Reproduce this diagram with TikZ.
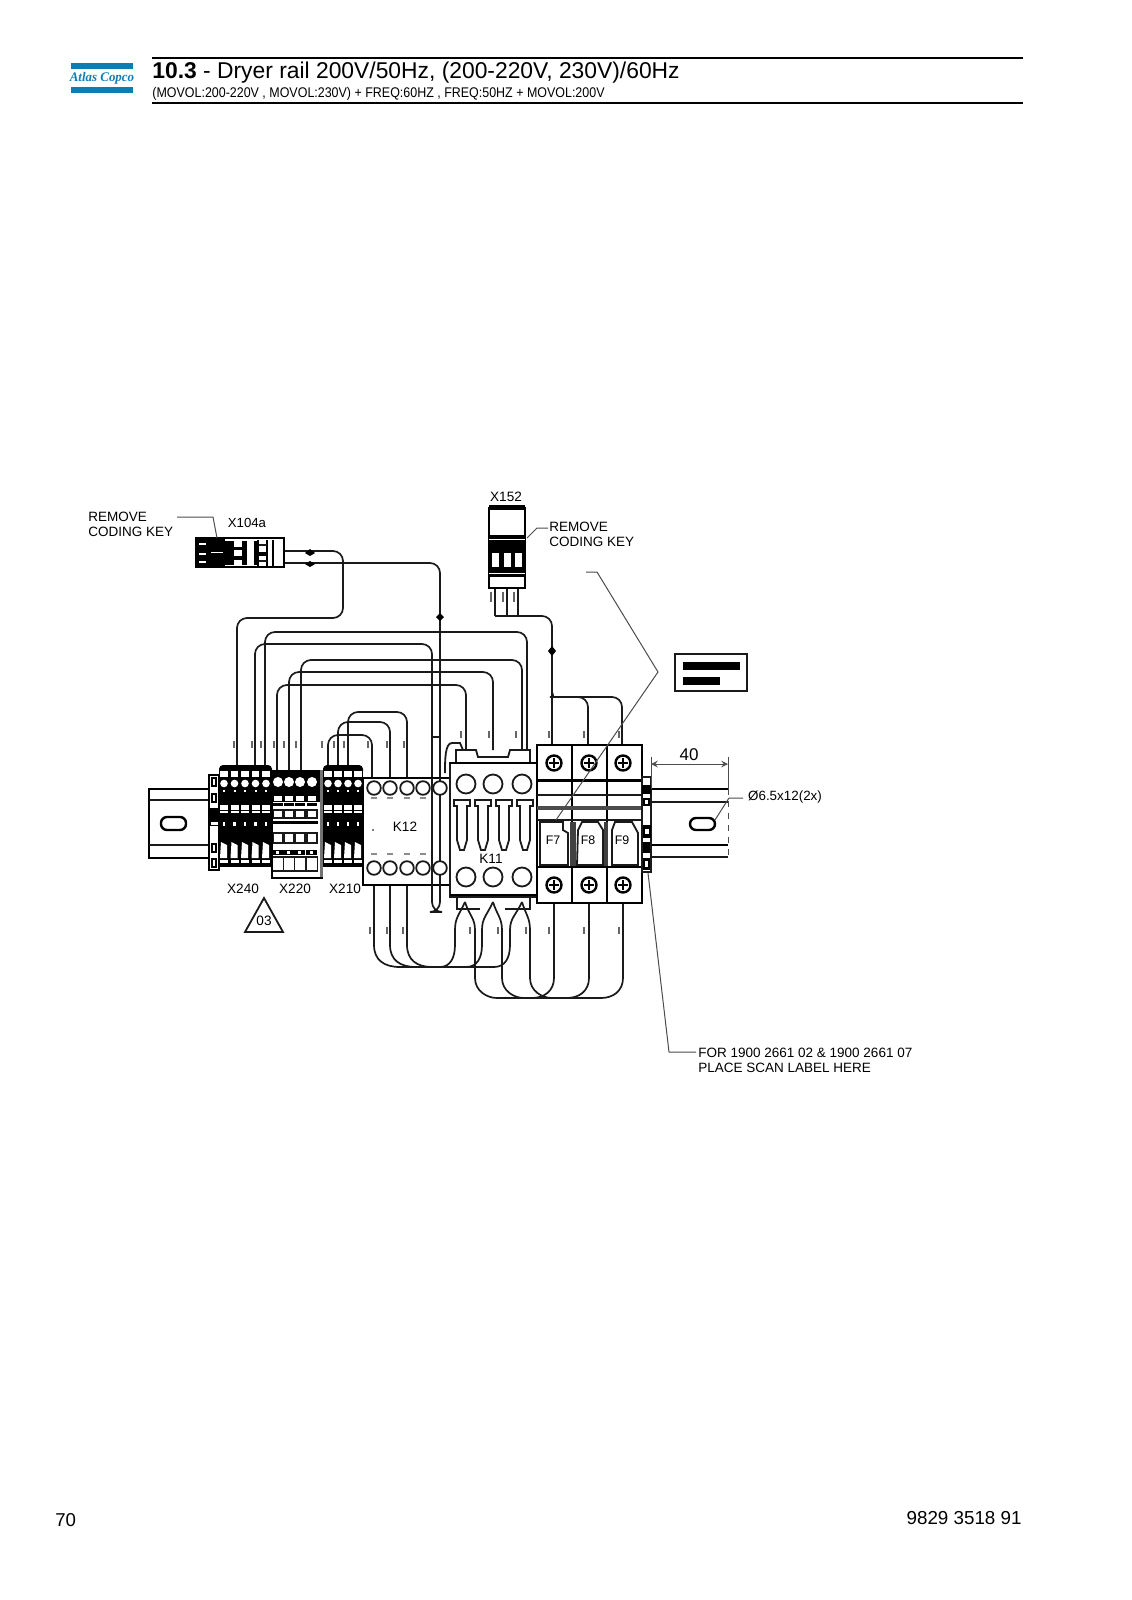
\documentclass[tikz,border=0pt]{standalone}
\usepackage{fontspec}
\setmainfont{Liberation Sans}
\newfontfamily\logofont{Liberation Serif}
\definecolor{acblue}{HTML}{0B7FB4}
\definecolor{inkc}{HTML}{1A1A1A}
\tikzset{
  wire/.style={draw=inkc,line width=0.85pt,rounded corners=5pt},
  thin part/.style={draw=inkc,line width=0.7pt},
  heavy part/.style={draw=black,line width=1.2pt},
  leader/.style={draw=black!70,line width=0.5pt},
  draw label/.style={inner sep=0pt,font=\fontsize{6.75}{7.6}\selectfont,text=black,align=left},
  tick/.style={draw=black!60,line width=0.7pt},
}
\newcommand{\fuseshape}[1]{%
  \draw[thin part,fill=white,line width=0.9pt] (#1-8,800)--(#1+8,800)--(#1+8,806)--(#1+5,806)--(#1+5,840)--(#1+2,850)--(#1-2,850)--(#1-5,840)--(#1-5,806)--(#1-8,806)--cycle;}
\begin{document}
\begin{tikzpicture}[x=0.5pt,y=-0.5pt]
\useasboundingbox (0,0) rectangle (1131,1600);
% ---------- header
\fill[acblue] (71,63.5) rectangle (133,69.5);
\fill[acblue] (71,87) rectangle (133,93);
\node[inner sep=0pt,text=acblue] (logo) at (102,78.5) {\scalebox{0.98}[1]{\logofont\bfseries\itshape\fontsize{6.6}{7}\selectfont Atlas Copco}};
\draw[black,line width=1.2pt] (152,58) -- (1023,58);
\draw[black,line width=1.2pt] (152,103) -- (1023,103);
\node[anchor=base west,inner sep=0pt] (title) at (152,79) {\fontsize{11.42}{13}\selectfont\textbf{10.3} - Dryer rail 200V/50Hz, (200-220V, 230V)/60Hz};
\node[anchor=base west,inner sep=0pt] (subtitle) at (152,97.5) {\scalebox{0.89}[1]{\fontsize{7}{8}\selectfont (MOVOL:200-220V , MOVOL:230V) + FREQ:60HZ , FREQ:50HZ + MOVOL:200V}};
% ---------- footer
\node[anchor=base west,inner sep=0pt] (pageno) at (55,1526) {\fontsize{9.3}{11}\selectfont 70};
\node[anchor=base east,inner sep=0pt] (docno) at (1022,1524) {\fontsize{9.4}{11}\selectfont 9829 3518 91};
% ---------- rails
\draw[heavy part] (210,789) -- (149,789) -- (149,858) -- (210,858);
\draw[thin part] (149,800) -- (210,800) (149,845) -- (210,845);
\draw[heavy part,rounded corners=3pt] (161,817) rectangle (186,830);
\draw[heavy part] (651,789) -- (728,789);
\draw[thin part] (651,857) -- (728,857);
\draw[leader,dashed] (728,789) -- (728,857);
\draw[thin part] (651,802) -- (728,802) ;
\draw[heavy part] (651,845) -- (728,845);
\draw[heavy part,rounded corners=3pt] (690,818) rectangle (715,830);
% ---------- wires from X104a
\draw[wire] (284,551) -- (343,551) -- (343,618) -- (237,618) -- (237,766);
\draw[wire] (284,563) -- (440,563) -- (440,780);
\draw[wire] (432,780) -- (432,644) -- (255,644) -- (255,766);
\draw[thin part] (432,737) -- (440,737);
\draw[wire] (265,766) -- (265,632) -- (527,632) -- (527,750);
\draw[wire] (277,772) -- (277,685) -- (466,685) -- (466,750);
\draw[wire] (289,772) -- (289,672) -- (493,672) -- (493,750);
\draw[wire] (301,772) -- (301,660) -- (522,660) -- (522,750);
\draw[wire] (328,766) -- (328,735) -- (372,735) -- (372,780);
\draw[wire] (338,766) -- (338,722) -- (390,722) -- (390,780);
\draw[wire] (348,766) -- (348,712) -- (407,712) -- (407,780);
% ---------- wires from X152
\draw[wire] (495,588) -- (495,616);
\draw[wire] (507,588) -- (507,616);
\draw[wire] (518,588) -- (518,616);
\draw[wire] (495,616) -- (552,616) -- (552,745);
\draw[wire] (552,692) .. controls (553,696) and (555,697) .. (560,697) -- (622,697) -- (622,745);
\draw[wire] (580,697) -- (588,697) -- (588,745);
% ---------- lower wires
\foreach \a/\b/\c/\d/\e in {374/400/440/455/465,390/416/466/482/493,407/432/494/510/522}{
  \draw[thin part,line width=0.85pt] (\a,885) -- (\a,945) .. controls (\a,960) and (\a+10,967) .. (\b,967) -- (\c,967) .. controls (\d-5,967) and (\d,958) .. (\d,945) -- (\d,930) .. controls (\d,918) and (\e-6,915) .. (\e,902);
}
\foreach \e/\f/\g/\h/\i in {465/475/497/532/554,493/502/524/567/589,522/530/552/601/623}{
  \draw[thin part,line width=0.85pt] (\e,902) .. controls (\e+4,915) and (\f,918) .. (\f,930) -- (\f,978) .. controls (\f,991) and (\g-10,998) .. (\g,998) -- (\h,998) .. controls (\h+12,998) and (\i,991) .. (\i,978) -- (\i,903);
}
% ---------- wire marks
\foreach \p in {234,252,261,274,284,296,322,334,344,368,387,404}{\draw[tick] (\p,741) -- (\p,748);}
\foreach \p in {461,489,516,549,584,619}{\draw[tick] (\p,731) -- (\p,738);}
\foreach \p in {370,387,403,470,498,526,549,584,619}{\draw[tick] (\p,927) -- (\p,934);}
\foreach \p in {491,503,514}{\draw[tick] (\p,592) -- (\p,602);}
\fill[black] (440,613) -- (444,617) -- (440,621) -- (436,617) -- cycle;
\fill[black] (552,646) -- (556,651) -- (552,656) -- (548,651) -- cycle;
\fill[black] (310,549) -- (315,553) -- (310,556) -- (305,553) -- cycle;
\fill[black] (310,561) -- (315,564) -- (310,567) -- (305,564) -- cycle;
% ---------- X104a connector
\draw[heavy part,fill=white] (196,538) rectangle (284,567);
\fill[black] (196,538) rectangle (225,566);
\fill[black] (225,541) rectangle (258,565);
\foreach \yy in {543,553,561}{\fill[white] (199,\yy) rectangle (206,\yy+2);}
\draw[white,line width=0.5pt] (211,552) -- (223,552);
\foreach \yy in {541,550,560}{\fill[white] (234,\yy) rectangle (242,\yy+6);}
\fill[white] (247,540) rectangle (254,565);
\fill[white] (262,541) rectangle (267,565);
\draw[black,line width=0.8pt] (258,540) -- (258,566) (267,540) -- (267,566) (273,540) -- (273,566);
\fill[black] (259,552) rectangle (267,556);
\draw[thin part] (259,545) -- (267,545) (259,561) -- (267,561);
% ---------- terminal block end plate
\draw[heavy part,fill=white] (209,775) rectangle (219,870);
\foreach \yy in {782,798,848,863}{\fill[black] (211,\yy-5) rectangle (217,\yy+5);\fill[white] (213,\yy-3) rectangle (215,\yy+3);}
\fill[black] (210,808) rectangle (219,826);
\fill[white] (211,822) rectangle (218,825);
% ---------- X240 and X210 terminal strips
\foreach \l/\r/\cols in {219/272/{224,234.5,245,255.5,266},323/363/{328,338,348,358}}{
  \fill[black] (\l,769) rectangle (\r,867);
  \fill[black,rounded corners=2pt] (\l,765) rectangle (\r,775);
  \foreach \cx in \cols {
    \fill[white] (\cx-3.8,771) rectangle (\cx+3.8,777);
    \fill[white] (\cx,783.5) circle[radius=3.8];
    \fill[white] (\cx-1,790) rectangle (\cx+1,792);
    \fill[white] (\cx-4,805) rectangle (\cx+4,810);
    \fill[white] (\cx-4,811) rectangle (\cx+4,813);
    \fill[white] (\cx-1.3,822) rectangle (\cx+1.3,826);
    \fill[white] (\cx-3,842) -- (\cx+3,845) -- (\cx+3,858) -- (\cx-4,858) -- cycle;
    \fill[white] (\cx-4,860) rectangle (\cx+4,863);
  }
}
% ---------- X220
\fill[white] (272,770) rectangle (323,878);
\fill[black] (272,773) rectangle (321,802);
\fill[black] (272,770) rectangle (321,773);
\foreach \cx in {278,289,300,312}{
  \fill[white] (\cx,782) circle[radius=5];
  \fill[white] (\cx-4,796) rectangle (\cx+4,801);
  \fill[black] (\cx-5,803) rectangle (\cx+5,806);
  \draw[thin part] (\cx-5,810) rectangle (\cx+5,818);
  \fill[black] (\cx-6,821) rectangle (\cx+6,824);
  \draw[thin part] (\cx-5,833) rectangle (\cx+5,843);
  \fill[black] (\cx-6,850) rectangle (\cx+5,855);
  \fill[white] (\cx-2,851) rectangle (\cx+1,854);
  \draw[thin part,line width=0.9pt] (\cx-5.5,857) rectangle (\cx+5.5,871);
}
\fill[black!55] (320,770) rectangle (323,878);
\draw[heavy part] (272,770) -- (272,878) -- (323,878);
% ---------- K12
\draw[heavy part,fill=white] (363,778) rectangle (452,885);
\draw[wire] (432,778) -- (432,912) -- (440,912) -- (440,778);
\foreach \cx in {374,390,407,423,440}{
  \draw[thin part,fill=white,line width=0.9pt] (\cx,788) circle[radius=6.8];
  \draw[thin part,fill=white,line width=0.9pt] (\cx,868) circle[radius=6.8];
}
\foreach \cx in {374,390,407,423}{
  \draw[draw=black!45,line width=0.6pt] (\cx-3,798) -- (\cx+3,798);
  \draw[draw=black!45,line width=0.6pt] (\cx-3,854) -- (\cx+3,854);
}
\node[inner sep=0pt,font=\fontsize{6.8}{8}\selectfont,text=black] (k12) at (405,827) {K12};
\fill[black] (373,830) circle[radius=0.9];
% ---------- K11
\draw[thin part,line width=0.9pt,fill=white] (456,763) -- (456,750) -- (476,750) -- (478,757) -- (508,757) -- (510,750) -- (530,750) -- (530,763);
\draw[thin part,line width=0.9pt] (445,773) .. controls (445,760) and (445,743) .. (452,743) -- (460,743) -- (463,750);
\draw[thin part,fill=white] (450,763) rectangle (537,897);
\draw[heavy part] (450,763) -- (537,763) (450,895) -- (537,895);
\foreach \cx in {466,493,522}{
  \draw[thin part,fill=white,line width=0.9pt] (\cx,784) circle[radius=9.5];
  \draw[thin part,fill=white,line width=0.9pt] (\cx,877) circle[radius=9.5];
}
\fuseshape{462}\fuseshape{483}\fuseshape{504}\fuseshape{525}
\node[inner sep=0pt,font=\fontsize{6.8}{8}\selectfont,text=black] (k11) at (491,859) {K11};
\draw[thin part] (457,897) -- (457,909) -- (480,909) (505,909) -- (530,909) -- (530,897);
% ---------- F7-F9
\draw[heavy part,fill=white] (537,745) rectangle (642,903);
\draw[heavy part] (572,745) -- (572,903) (607,745) -- (607,903);
\draw[black,line width=1.5pt] (537,780) -- (642,780);
\draw[thin part] (537,795) -- (642,795);
\fill[black!70] (537,806) rectangle (642,810);
\draw[thin part] (537,820) -- (642,820);
\fill[white] (540,821) rectangle (570,866);
\fill[white] (574,821) rectangle (605,866);
\fill[white] (609,821) rectangle (640,866);
\foreach \cx in {554,589,623}{
  \draw[heavy part,fill=white] (\cx,763) circle[radius=7.5];
  \draw[black,line width=1.2pt] (\cx-5,763) -- (\cx+5,763) (\cx,758) -- (\cx,768);
  \draw[heavy part,fill=white] (\cx,885) circle[radius=7.5];
  \draw[black,line width=1.2pt] (\cx-5,885) -- (\cx+5,885) (\cx,880) -- (\cx,890);
}
\draw[thin part,line width=0.9pt] (540,822) -- (563,822) -- (563,830) -- (568,833) -- (568,865) -- (540,865) -- cycle;
\draw[thin part,line width=0.9pt] (578,830) -- (582,822) -- (598,822) -- (603,830) -- (603,865) -- (577,865) -- cycle;
\draw[thin part,line width=0.9pt] (612,830) -- (615,822) -- (632,822) -- (638,833) -- (638,865) -- (612,865) -- cycle;
\fill[black!75] (570,822) rectangle (576,866);
\fill[black!75] (604,822) rectangle (608,866);
\node[inner sep=0pt,font=\fontsize{6.2}{7}\selectfont,text=black] (f7) at (553,840) {F7};
\node[inner sep=0pt,font=\fontsize{6.2}{7}\selectfont,text=black] (f8) at (588,840) {F8};
\node[inner sep=0pt,font=\fontsize{6.2}{7}\selectfont,text=black] (f9) at (622,840) {F9};
\draw[black,line width=1.3pt] (537,867) -- (642,867);
% ---------- right end plate
\draw[thin part,fill=white] (642,777) rectangle (651,872);
\fill[black] (642,785) rectangle (651,794);
\fill[black] (643,798) rectangle (650,806);
\fill[white] (645,800) rectangle (648,804);
\fill[black] (643,825) rectangle (651,838);
\fill[white] (645,829) rectangle (649,834);
\fill[black] (643,842) rectangle (650,853);
\fill[black] (643,858) rectangle (650,870);
\fill[white] (645,861) rectangle (648,867);
% ---------- X152
\draw[heavy part,fill=white] (489,508) rectangle (525,588);
\fill[black] (489,505) rectangle (525,510);
\fill[black] (489,535) rectangle (525,548);
\fill[white] (489,539) rectangle (525,540);
\fill[black] (489,548) rectangle (525,570);
\foreach \cx in {495,507,518}{\fill[white] (\cx-3.5,553) rectangle (\cx+3.5,567);}
\fill[black] (489,570) rectangle (525,577);
\fill[white] (489,573) rectangle (525,574);
% ---------- scan label
\draw[thin part,line width=1pt] (675,654) rectangle (747,691);
\fill[black] (683,662) rectangle (740,670);
\fill[black] (683,677) rectangle (720,685);
% ---------- leaders
\coordinate (keyA) at (177,517);
\coordinate (keyB) at (213,517);
\coordinate (keyC) at (217,538);
\draw[leader] (keyA) -- (keyB) -- (keyC);
\coordinate (keyD) at (527,538);
\coordinate (keyE) at (537,528);
\coordinate (keyF) at (548,528);
\draw[leader] (keyD) -- (keyE) -- (keyF);
\coordinate (lblA) at (586,572);
\coordinate (lblB) at (597,572);
\coordinate (lblC) at (658,672);
\coordinate (lblD) at (556,820);
\draw[leader] (lblA) -- (lblB) -- (lblC) -- (lblD);
\coordinate (scanA) at (648,873);
\coordinate (scanB) at (669,1052);
\coordinate (scanC) at (696,1052);
\draw[leader] (scanA) -- (scanB) -- (scanC);
\coordinate (holeA) at (715,820);
\coordinate (holeB) at (729,798);
\coordinate (holeC) at (743,798);
\draw[leader] (holeA) -- (holeB) -- (holeC);
% ---------- dimension
\coordinate (dimL) at (651,764);
\coordinate (dimR) at (728,764);
\draw[leader] (651,757) -- (651,789) (728,757) -- (728,789);
\draw[leader,<->,>=stealth] (dimL) -- (dimR);
\node[inner sep=0pt,font=\fontsize{8.5}{10}\selectfont,text=black] (dim40) at (689,755) {40};
% ---------- labels
\node[draw label,anchor=west] (remA) at (88,524) {REMOVE\\[0pt]CODING KEY};
\node[draw label,anchor=west] (remB) at (549,534) {REMOVE\\[0pt]CODING KEY};
\node[draw label] (x104) at (247,523) {\fontsize{6.6}{7}\selectfont X104a};
\node[draw label] (x152) at (506,497) {\fontsize{6.8}{7}\selectfont X152};
\node[draw label] (x240) at (243,889) {\fontsize{6.8}{7}\selectfont X240};
\node[draw label] (x220) at (295,889) {\fontsize{6.8}{7}\selectfont X220};
\node[draw label] (x210) at (345,889) {\fontsize{6.8}{7}\selectfont X210};
\node[draw label] (hole) at (785,797) {\fontsize{6.7}{7}\selectfont Ø6.5x12(2x)};
\node[draw label,anchor=west] (scan) at (698,1060) {FOR 1900 2661 02 \& 1900 2661 07\\[0pt]PLACE SCAN LABEL HERE};
\draw[thin part,line width=0.9pt] (264,898) -- (283,932) -- (245,932) -- cycle;
\node[inner sep=0pt,font=\fontsize{6.8}{8}\selectfont,text=black] (tri) at (264,921) {03};
\end{tikzpicture}
\end{document}
